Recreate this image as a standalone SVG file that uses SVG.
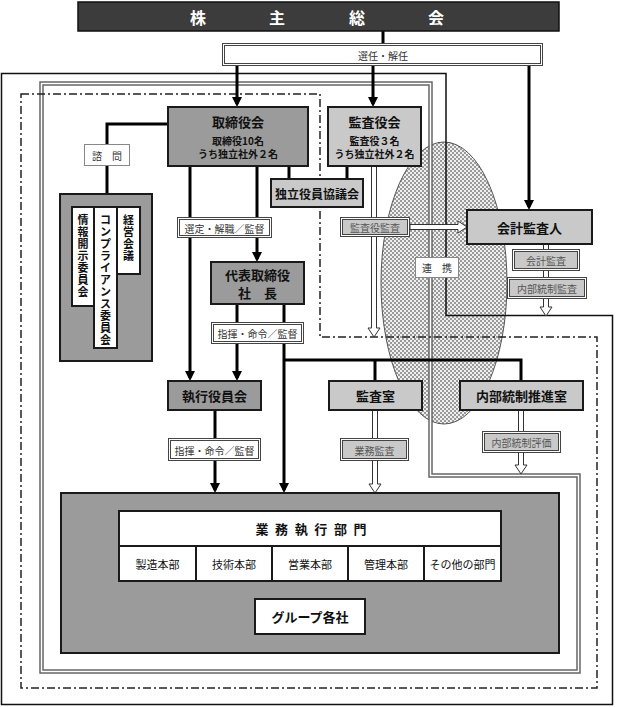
<svg xmlns="http://www.w3.org/2000/svg" width="617" height="707" viewBox="0 0 617 707">
<style>
text{font-family:"Noto Sans CJK JP","Noto Sans CJK SC",sans-serif;text-anchor:middle;dominant-baseline:central;fill:#111}
.bd{fill:#3c3c3c;stroke:#111;stroke-width:1.5}
.bm{fill:#9b9b9b;stroke:#1a1a1a;stroke-width:2}
.bl{fill:#c9c9c9;stroke:#1a1a1a;stroke-width:2}
.bw{fill:#fff;stroke:#1a1a1a;stroke-width:2}
.t13{font-size:13px;font-weight:bold}
.t12{font-size:12px;font-weight:bold}
.t10b{font-size:10px;font-weight:bold}
.t11{font-size:11px}
.lo{fill:#fff;stroke:#444;stroke-width:1}
.liw{fill:#fff;stroke:#444;stroke-width:1}
.lig{fill:#c9c9c9;stroke:#444;stroke-width:1}
.ls{fill:#fff;stroke:#888;stroke-width:1}
.lt{font-size:10px;fill:#333}
.ltg{font-size:10px;fill:#555}
.con{fill:none;stroke:#000;stroke-width:3}
.arr{marker-end:url(#ah)}
.hol{fill:#fff;stroke:#333;stroke-width:1}
.vt{font-size:11px;font-weight:bold}
.frs{fill:none;stroke:#111;stroke-width:1.5}
.frd1{fill:none;stroke:#666;stroke-width:4.5}
.frd2{fill:none;stroke:#fff;stroke-width:1.5}
.frdd{fill:none;stroke:#222;stroke-width:1.5;stroke-dasharray:8 3 2 3}
</style>
<defs>
<pattern id="hatch" patternUnits="userSpaceOnUse" width="4" height="4">
<rect width="4" height="4" fill="#efefef"/>
<rect width="2" height="2" fill="#9a9a9a"/>
<rect x="2" y="2" width="2" height="2" fill="#9a9a9a"/>
</pattern>
<marker id="ah" viewBox="0 0 10 10" refX="7" refY="5" markerWidth="10" markerHeight="10" markerUnits="userSpaceOnUse" orient="auto">
<path d="M0,0 L10,5 L0,10 Z" fill="#000"/>
</marker>
</defs>

<g id="cooperation-area">
<ellipse cx="444" cy="283" rx="63" ry="141" fill="url(#hatch)" stroke="#555" stroke-width="1"/>
</g>

<g id="frames">
<path class="frs" d="M1.5,73.5 H446 V315.5 H612.5 V704.5 H1.5 Z"/>
<path class="frd1" d="M41.5,83.5 H430.5 V475.5 H578.5 V671.5 H41.5 Z"/>
<path class="frd2" d="M41.5,83.5 H430.5 V475.5 H578.5 V671.5 H41.5 Z"/>
<path class="frdd" d="M21,94 H320 V337 H597 V688 H21 Z"/>
</g>

<g id="connectors">
<path class="con" d="M383,31 V43"/>
<path class="con arr" d="M237,66 V104"/>
<path class="con arr" d="M373,66 V104"/>
<path class="con arr" d="M529,66 V207"/>
<path class="con" d="M289,166 V179"/>
<path class="con" d="M347,166 V179"/>
<path class="con" d="M168,124 H107 V194"/>
<path class="con arr" d="M257,166 V259"/>
<path class="con arr" d="M190,166 V378"/>
<path class="con arr" d="M237,304 V378"/>
<path class="con arr" d="M284,304 V490"/>
<path class="con" d="M284,360 H521 V381"/>
<path class="con" d="M375,360 V381"/>
<path class="con arr" d="M215,410 V490"/>
<path class="hol" d="M371.5,166 V328 H368 L374,337 L380,328 H376.5 V166"/>
<path class="hol" d="M410,224.5 H458 V221 L467,227 L458,233 V229.5 H410 Z"/>
<path class="hol" d="M543.5,244 V307 H540 L546,316 L552,307 H548.5 V244"/>
<path class="hol" d="M372.5,410 V484 H369 L375,493 L381,484 H377.5 V410"/>
<path class="hol" d="M518.5,410 V465 H515 L521,474 L527,465 H523.5 V410"/>
</g>

<g id="labels">
<g id="lbl-senin"><rect class="lo" x="222.5" y="43.5" width="320" height="22"/><rect class="liw" x="224.5" y="45.5" width="316" height="18"/><text class="lt" x="383" y="55">選任・解任</text></g>
<g id="lbl-sentei"><rect class="lo" x="177.5" y="217.5" width="94" height="20"/><rect class="liw" x="179.5" y="219.5" width="90" height="16"/><text class="lt" x="224.5" y="228">選定・解職／監督</text></g>
<g id="lbl-shiki1"><rect class="lo" x="211.5" y="322.5" width="92" height="21"/><rect class="liw" x="213.5" y="324.5" width="88" height="17"/><text class="lt" x="257.5" y="333.5">指揮・命令／監督</text></g>
<g id="lbl-shiki2"><rect class="lo" x="168.5" y="438.5" width="92" height="22"/><rect class="liw" x="170.5" y="440.5" width="88" height="18"/><text class="lt" x="214.5" y="450">指揮・命令／監督</text></g>
<g id="lbl-kansayaku"><rect class="lo" x="340.5" y="217.5" width="69" height="19"/><rect class="lig" x="342.5" y="219.5" width="65" height="15"/><text class="ltg" x="375" y="227.5">監査役監査</text></g>
<g id="lbl-kaikei"><rect class="lo" x="512.5" y="249.5" width="67" height="21"/><rect class="lig" x="514.5" y="251.5" width="63" height="17"/><text class="ltg" x="546" y="260.5">会計監査</text></g>
<g id="lbl-naibukansa"><rect class="lo" x="507.5" y="277.5" width="79" height="21"/><rect class="lig" x="509.5" y="279.5" width="75" height="17"/><text class="ltg" x="547" y="288.5">内部統制監査</text></g>
<g id="lbl-gyomu"><rect class="lo" x="340.5" y="438.5" width="68" height="22"/><rect class="lig" x="342.5" y="440.5" width="64" height="18"/><text class="ltg" x="374.5" y="450">業務監査</text></g>
<g id="lbl-hyoka"><rect class="lo" x="482.5" y="431.5" width="78" height="21"/><rect class="lig" x="484.5" y="433.5" width="74" height="17"/><text class="ltg" x="521.5" y="442.5">内部統制評価</text></g>
<g id="lbl-shimon"><rect class="ls" x="84.5" y="144.5" width="45" height="21"/><text class="lt" x="107" y="155.5">諮　問</text></g>
<g id="lbl-renkei"><rect class="ls" x="415.5" y="257.5" width="43" height="20"/><text class="lt" x="437" y="267.5">連　携</text></g>
</g>

<g id="shareholders">
<rect class="bd" x="78" y="2" width="481" height="29"/>
<text x="198 277 357 436" y="17" style="font-size:16px;font-weight:bold;fill:#fff">株主総会</text>
</g>
<g id="board">
<rect class="bm" x="168" y="107" width="140" height="59"/>
<text class="t13" x="238" y="121">取締役会</text>
<text class="t10b" x="238" y="140">取締役10名</text>
<text class="t10b" x="238" y="153.5">うち独立社外２名</text>
</g>
<g id="auditors">
<rect class="bl" x="328" y="107" width="93" height="59"/>
<text class="t13" x="374.5" y="121">監査役会</text>
<text class="t10b" x="374.5" y="140">監査役３名</text>
<text class="t10b" x="374.5" y="153.5">うち独立社外２名</text>
</g>
<g id="independent">
<rect class="bl" x="271" y="179" width="92" height="28"/>
<text class="t12" x="317" y="193">独立役員協議会</text>
</g>
<g id="committees">
<rect class="bm" x="60" y="194" width="92" height="167"/>
<rect class="bw" x="72" y="207" width="22" height="99"/>
<rect class="bw" x="94" y="207" width="23" height="141"/>
<rect class="bw" x="117" y="207" width="23" height="67"/>
<text class="vt" x="83 83 83 83 83 83 83" y="219 231 243 255 267 279 291">情報開示委員会</text>
<text class="vt" x="105.5 105.5 105.5 105.5 105.5 105.5 105.5 105.5 105.5 105.5 105.5" y="219 231 243 255 267 279 291 303 315 327 339">コンプライアンス委員会</text>
<text class="vt" x="128.5 128.5 128.5 128.5" y="219 231 243 255">経営会議</text>
</g>
<g id="president">
<rect class="bm" x="211" y="262" width="93" height="42"/>
<text class="t13" x="257.5" y="274.5">代表取締役</text>
<text class="t13" x="257.5" y="292">社　長</text>
</g>
<g id="accounting-auditor">
<rect class="bl" x="467" y="210" width="125" height="34"/>
<text class="t13" x="529.5" y="227">会計監査人</text>
</g>
<g id="executive">
<rect class="bm" x="168" y="381" width="93" height="29"/>
<text class="t13" x="214.5" y="395.5">執行役員会</text>
</g>
<g id="audit-office">
<rect class="bl" x="329" y="381" width="93" height="29"/>
<text class="t13" x="375.5" y="395.5">監査室</text>
</g>
<g id="ic-office">
<rect class="bl" x="460" y="381" width="123" height="29"/>
<text class="t13" x="521.5" y="395.5">内部統制推進室</text>
</g>
<g id="operations">
<rect class="bm" x="61" y="493" width="498" height="160"/>
<rect class="bw" x="119" y="511" width="382" height="35"/>
<text x="262 281.6 301.2 320.8 340.4 360" y="528.5" style="font-size:13px;font-weight:bold">業務執行部門</text>
<rect class="bw" x="119" y="546" width="77" height="35"/>
<rect class="bw" x="196" y="546" width="76" height="35"/>
<rect class="bw" x="272" y="546" width="76" height="35"/>
<rect class="bw" x="348" y="546" width="76" height="35"/>
<rect class="bw" x="424" y="546" width="77" height="35"/>
<text class="t11" x="157.5" y="563.5">製造本部</text>
<text class="t11" x="234" y="563.5">技術本部</text>
<text class="t11" x="310" y="563.5">営業本部</text>
<text class="t11" x="386" y="563.5">管理本部</text>
<text class="t11" x="462.5" y="563.5">その他の部門</text>
<rect class="bw" x="255" y="599" width="110" height="35"/>
<text class="t13" x="310" y="616.5">グループ各社</text>
</g>
</svg>
